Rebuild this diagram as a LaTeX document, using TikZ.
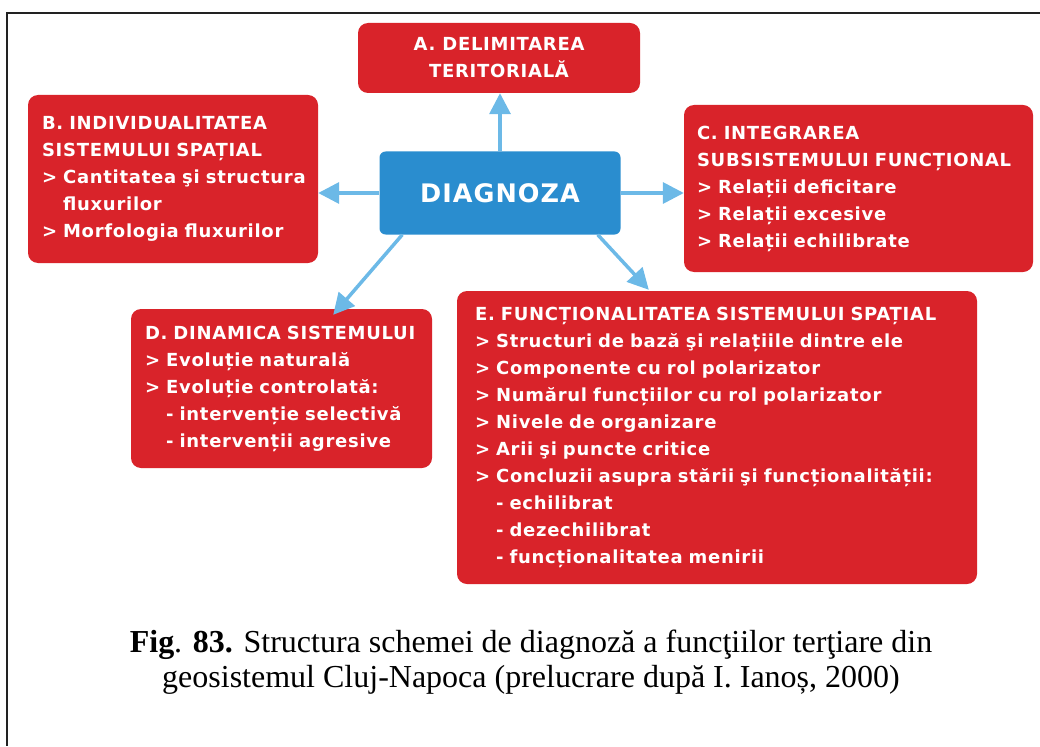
\documentclass[tikz,border=0pt]{standalone}
\usepackage{fontspec}
\setmainfont{Liberation Serif}
\newfontfamily\boxfont[LetterSpace=4]{DejaVu Sans}
\usetikzlibrary{arrows.meta,positioning}
\definecolor{boxred}{HTML}{D9232A}
\definecolor{boxblue}{HTML}{2A8DCF}
\definecolor{arrowblue}{HTML}{6CB9E7}
\definecolor{framegray}{HTML}{222222}

\begin{document}
\begin{tikzpicture}[
  x=1pt, y=-1pt,
  redbox/.style={fill=boxred, rounded corners=10pt, text=white, align=left,
    inner xsep=14pt, font=\boxfont\bfseries\fontsize{18}{27}\selectfont},
  centerbox/.style={fill=boxblue, rounded corners=6pt, text=white,
    minimum width=241pt, minimum height=83pt, font=\boxfont\bfseries\fontsize{25.5}{30}\selectfont},
  arrow/.style={-{Triangle[length=21pt,width=21pt]}, line width=3.5pt, arrowblue}
]
\useasboundingbox (0,0) rectangle (1040,746);

% frame
\draw[framegray, line width=2.5pt] (1040,13) -- (7,13) -- (7,746);

\node[centerbox] (diag) at (500,193) {DIAGNOZA};

\node[redbox, align=center, minimum width=282pt, minimum height=70pt] (delim) at (499,58)
  {A. DELIMITAREA\\TERITORIALĂ};
\node[redbox, minimum width=290pt, minimum height=168pt, text width=262pt] (indiv) at (173,179)
  {B. INDIVIDUALITATEA\\SISTEMULUI SPAȚIAL\\> Cantitatea şi structura\\\phantom{> }fluxurilor\\> Morfologia fluxurilor};
\node[redbox, minimum width=349pt, minimum height=167pt, text width=323pt, inner xsep=13pt] (integr) at (858.5,188.5)
  {C. INTEGRAREA\\SUBSISTEMULUI FUNCȚIONAL\\> Relații deficitare\\> Relații excesive\\> Relații echilibrate};
\node[redbox, minimum width=301pt, minimum height=159pt, text width=273pt] (dinam) at (281.5,388.5)
  {D. DINAMICA SISTEMULUI\\> Evoluție naturală\\> Evoluție controlată:\\\phantom{> }- intervenție selectivă\\\phantom{> }- intervenții agresive};
\node[redbox, minimum width=520pt, minimum height=293pt, text width=484pt, inner xsep=18pt] (funct) at (717,437.5)
  {E. FUNCȚIONALITATEA SISTEMULUI SPAȚIAL\\
   > Structuri de bază şi relațiile dintre ele\\
   > Componente cu rol polarizator\\
   > Numărul funcțiilor cu rol polarizator\\
   > Nivele de organizare\\
   > Arii şi puncte critice\\
   > Concluzii asupra stării şi funcționalității:\\
   \phantom{> }- echilibrat\\
   \phantom{> }- dezechilibrat\\
   \phantom{> }- funcționalitatea menirii};

\draw[arrow] (diag.north) -- (diag.north |- delim.south);
\draw[arrow] (diag.west) -- (diag.west -| indiv.east);
\draw[arrow] (diag.east) -- (diag.east -| integr.west);
\draw[arrow] ([xshift=23pt]diag.south west) -- ([xshift=-99pt, yshift=-6pt]dinam.north east);
\draw[arrow] ([xshift=-23pt]diag.south east) -- ([xshift=192pt, yshift=1pt]funct.north west);

\node[align=center, font=\fontsize{32}{35}\selectfont] (caption) at (531,662)
  {\textbf{Fig}. \textbf{83.} Structura schemei de diagnoză a funcţiilor terţiare din\\
   geosistemul Cluj-Napoca (prelucrare după I. Ianoș, 2000)};
\end{tikzpicture}
\end{document}
